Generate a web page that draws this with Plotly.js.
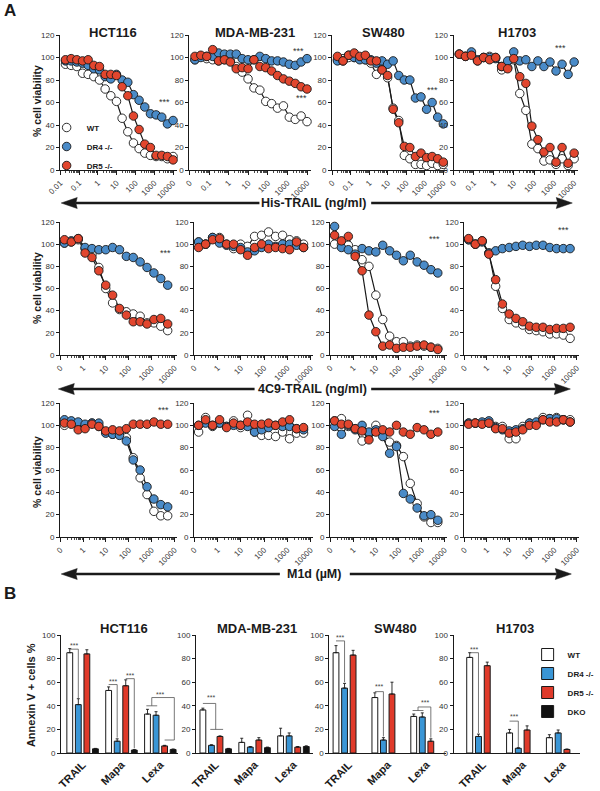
<!DOCTYPE html>
<html>
<head>
<meta charset="utf-8">
<script src="https://cdn.plot.ly/plotly-3.0.1.min.js"></script>
<style>
  body { margin: 0; background: #fff; }
  #chart { width: 600px; height: 791px; }
</style>
</head>
<body>
<div id="chart"></div>
<script>
// doses (2-fold dilutions)
const doseHis = [0.019, 0.038, 0.076, 0.153, 0.305, 0.61, 1.22, 2.44, 4.88, 9.77, 19.5, 39.1, 78.1, 156, 312, 625, 1250, 2500, 5000, 10000];
const doseLow = [0.153, 0.305, 0.61, 1.22, 2.44, 4.88, 9.77, 19.5, 39.1, 78.1, 156, 312, 625, 1250, 2500, 5000];

// His-TRAIL (ng/ml), % cell viability
const hctHisWt = [94, 93, 92, 86, 85, 83, 80, 72, 66, 61, 46, 34, 24, 19, 15, 13, 12, 12, 10, 12];
const hctHisDr4 = [97, 97, 96, 95, 93, 90, 89, 83, 81, 85, 80, 78, 67, 62, 56, 50, 49, 47, 41, 44];
const hctHisDr5 = [98, 99, 98, 97, 98, 93, 92, 85, 85, 84, 74, 66, 48, 36, 23, 20, 13, 13, 12, 9];
const mdaHisWt = [98, 101, 99, 98, 97, 98, 97, 92, 87, 81, 73, 71, 61, 59, 55, 57, 47, 45, 48, 43];
const mdaHisDr4 = [98, 100, 101, 101, 104, 103, 103, 103, 99, 98, 98, 101, 99, 97, 97, 96, 94, 93, 96, 99];
const mdaHisDr5 = [101, 102, 101, 107, 97, 98, 96, 90, 91, 90, 98, 92, 91, 88, 84, 81, 79, 77, 74, 72];
const swHisWt = [98, 99, 100, 100, 99, 98, 95, 85, 89, 82, 55, 44, 13, 10, 5, 5, 4, 6, 4, 5];
const swHisDr4 = [97, 97, 102, 100, 98, 98, 98, 95, 97, 94, 97, 84, 80, 80, 64, 65, 54, 60, 47, 41];
const swHisDr5 = [101, 97, 102, 104, 101, 102, 97, 97, 89, 84, 54, 42, 21, 20, 12, 15, 11, 12, 10, 7];
const hHisWt = [103, 101, 103, 97, 100, 101, 100, 89, 91, 98, 68, 53, 23, 19, 8, 9, 5, 10, 4, 10];
const hHisDr4 = [103, 101, 105, 98, 100, 100, 99, 92, 97, 105, 97, 98, 92, 97, 92, 96, 88, 94, 85, 96];
const hHisDr5 = [103, 101, 102, 97, 100, 98, 100, 92, 90, 99, 83, 77, 39, 27, 16, 20, 7, 20, 6, 15];

// 4C9-TRAIL (ng/ml)
const hct4c9Wt = [101, 102, 104, 96, 91, 79, 60, 47, 41, 39, 37, 35, 29, 29, 26, 22];
const hct4c9Dr4 = [101, 103, 105, 97, 96, 95, 95, 97, 95, 89, 88, 84, 79, 74, 69, 63];
const hct4c9Dr5 = [104, 102, 105, 92, 88, 76, 63, 54, 42, 36, 30, 30, 28, 32, 33, 28];
const mda4c9Wt = [102, 100, 106, 106, 100, 96, 100, 98, 107, 108, 111, 107, 108, 104, 103, 100];
const mda4c9Dr4 = [102, 100, 106, 101, 99, 98, 97, 93, 94, 97, 100, 98, 100, 100, 99, 97];
const mda4c9Dr5 = [97, 100, 104, 105, 100, 100, 95, 90, 97, 100, 96, 97, 96, 95, 102, 97];
const sw4c9Wt = [100, 100, 99, 95, 86, 80, 54, 32, 17, 12, 12, 8, 9, 8, 7, 6];
const sw4c9Dr4 = [116, 97, 95, 91, 96, 94, 93, 99, 94, 90, 85, 90, 84, 81, 77, 74];
const sw4c9Dr5 = [108, 103, 107, 89, 76, 36, 21, 8, 9, 6, 7, 7, 8, 9, 7, 5];
const h4c9Wt = [104, 100, 103, 92, 62, 42, 32, 29, 27, 23, 22, 21, 19, 19, 18, 15];
const h4c9Dr4 = [104, 100, 102, 92, 94, 96, 97, 98, 99, 98, 99, 99, 97, 96, 96, 96];
const h4c9Dr5 = [105, 100, 103, 91, 68, 46, 37, 33, 30, 26, 25, 25, 23, 24, 24, 25];

// M1d (µM)
const hctM1dWt = [100, 103, 102, 100, 102, 99, 94, 92, 93, 89, 71, 53, 38, 23, 19, 19];
const hctM1dDr4 = [105, 104, 103, 101, 102, 102, 93, 92, 91, 86, 69, 60, 45, 34, 29, 27];
const hctM1dDr5 = [102, 101, 96, 97, 101, 99, 95, 96, 95, 97, 101, 101, 101, 103, 101, 101];
const mdaM1dWt = [94, 107, 99, 102, 99, 104, 98, 109, 94, 91, 91, 90, 94, 88, 93, 93];
const mdaM1dDr4 = [100, 102, 100, 102, 99, 100, 100, 99, 94, 96, 98, 100, 99, 99, 97, 96];
const mdaM1dDr5 = [100, 105, 100, 105, 98, 102, 100, 103, 101, 101, 102, 100, 103, 105, 97, 98];
const swM1dWt = [104, 106, 99, 97, 86, 93, 100, 94, 85, 82, 72, 48, 30, 18, 13, 13];
const swM1dDr4 = [99, 92, 100, 96, 100, 94, 96, 90, 75, 81, 39, 34, 26, 19, 20, 15];
const swM1dDr5 = [104, 101, 101, 97, 95, 87, 94, 96, 94, 100, 94, 92, 98, 96, 92, 94];
const hM1dWt = [102, 102, 102, 102, 99, 99, 88, 88, 99, 102, 102, 107, 106, 107, 105, 105];
const hM1dDr4 = [102, 102, 103, 104, 98, 96, 95, 96, 97, 102, 103, 105, 106, 106, 105, 103];
const hM1dDr5 = [101, 102, 101, 102, 97, 97, 93, 94, 96, 100, 100, 105, 103, 103, 105, 103];

// Annexin V+ cells %
const drugs = ['TRAIL', 'Mapa', 'Lexa'];
const hctBarWt = [85, 53, 33];
const hctBarDr4 = [41, 10, 32];
const hctBarDr5 = [84, 57, 6];
const hctBarDko = [3.5, 2.5, 3];
const hctErrWt = [3.5, 3, 4];
const hctErrDr4 = [5, 2, 3];
const hctErrDr5 = [3.5, 5, 0.5];
const hctErrDko = [0.4, 0.4, 0.4];
const mdaBarWt = [36.5, 9, 14.5];
const mdaBarDr4 = [6.5, 5, 14.5];
const mdaBarDr5 = [14, 11, 5];
const mdaBarDko = [3.5, 4.5, 5.5];
const mdaErrWt = [1.5, 3.5, 6.5];
const mdaErrDr4 = [0.5, 0.5, 2.5];
const mdaErrDr5 = [0.5, 2, 0.5];
const mdaErrDko = [0.4, 0.5, 0.6];
const swBarWt = [85, 47, 31];
const swBarDr4 = [55, 11, 30.5];
const swBarDr5 = [83, 50, 10];
const swErrWt = [6, 4, 2];
const swErrDr4 = [4, 2, 3.5];
const swErrDr5 = [4, 10, 2];
const hBarWt = [81, 17, 13];
const hBarDr4 = [14, 4, 17];
const hBarDr5 = [74, 19.5, 3];
const hErrWt = [4, 3, 2.5];
const hErrDr4 = [2, 0.5, 2.5];
const hErrDr5 = [3, 3.5, 0.4];
const noBars = [null, null, null];

const seriesNames = ['WT', 'DR4 -/-', 'DR5 -/-'];
const barNames = ['WT', 'DR4 -/-', 'DR5 -/-', 'DKO'];

const W = 600;
const H = 791;
const px = v => v / W;
const py = v => 1 - v / H;

const FONT = 'Liberation Sans, Arial, Helvetica, sans-serif';
const INK = '#1a1a1a';
const markerColors = ['#ffffff', '#4a8bc8', '#e2462e'];
const barColors = ['#ffffff', '#3a96d6', '#e03a2a', '#111111'];

const rowY = [[35, 170], [222, 355], [403, 537]];
const colX = [
  [[62, 182], [195, 320], [342, 460], [467, 595]],
  [[62, 182], [200, 322], [340, 460], [478, 596]],
  [[62, 182], [200, 322], [340, 460], [478, 596]],
];
const barX = [[63, 183], [202, 322], [339, 459], [467, 597]];
const barY = [635, 753];
const barRanges = [[-0.55, 2.45], [-0.5, 2.5], [-0.5, 2.5], [-0.73, 2.44]];

const panels = [
  { row: 0, col: 0, dose: doseHis, ys: [hctHisWt, hctHisDr4, hctHisDr5] },
  { row: 0, col: 1, dose: doseHis, ys: [mdaHisWt, mdaHisDr4, mdaHisDr5] },
  { row: 0, col: 2, dose: doseHis, ys: [swHisWt, swHisDr4, swHisDr5] },
  { row: 0, col: 3, dose: doseHis, ys: [hHisWt, hHisDr4, hHisDr5] },
  { row: 1, col: 0, dose: doseLow, ys: [hct4c9Wt, hct4c9Dr4, hct4c9Dr5] },
  { row: 1, col: 1, dose: doseLow, ys: [mda4c9Wt, mda4c9Dr4, mda4c9Dr5] },
  { row: 1, col: 2, dose: doseLow, ys: [sw4c9Wt, sw4c9Dr4, sw4c9Dr5] },
  { row: 1, col: 3, dose: doseLow, ys: [h4c9Wt, h4c9Dr4, h4c9Dr5] },
  { row: 2, col: 0, dose: doseLow, ys: [hctM1dWt, hctM1dDr4, hctM1dDr5] },
  { row: 2, col: 1, dose: doseLow, ys: [mdaM1dWt, mdaM1dDr4, mdaM1dDr5] },
  { row: 2, col: 2, dose: doseLow, ys: [swM1dWt, swM1dDr4, swM1dDr5] },
  { row: 2, col: 3, dose: doseLow, ys: [hM1dWt, hM1dDr4, hM1dDr5] },
];

const bars = [
  { ys: [hctBarWt, hctBarDr4, hctBarDr5, hctBarDko], errs: [hctErrWt, hctErrDr4, hctErrDr5, hctErrDko] },
  { ys: [mdaBarWt, mdaBarDr4, mdaBarDr5, mdaBarDko], errs: [mdaErrWt, mdaErrDr4, mdaErrDr5, mdaErrDko] },
  { ys: [swBarWt, swBarDr4, swBarDr5, noBars], errs: [swErrWt, swErrDr4, swErrDr5, noBars] },
  { ys: [hBarWt, hBarDr4, hBarDr5, noBars], errs: [hErrWt, hErrDr4, hErrDr5, noBars] },
];

// significance marks on the dose-response panels: [panel, dose, viability]
const lineStars = [
  [0, 3600, 60], [1, 3500, 106], [1, 5500, 64], [2, 2600, 71], [3, 2200, 108],
  [4, 4000, 92], [6, 3500, 105], [7, 2600, 113], [8, 3200, 114], [10, 3500, 111],
];

const cellTitles = ['HCT116', 'MDA-MB-231', 'SW480', 'H1703'];
const titleXA = [116, 262, 395, 532];
const titleXB = [128, 265, 407, 530];

const data = [];
const layout = {
  width: W,
  height: H,
  margin: { l: 0, r: 0, t: 0, b: 0 },
  paper_bgcolor: '#ffffff',
  plot_bgcolor: 'rgba(0,0,0,0)',
  font: { family: FONT, color: INK },
  showlegend: true,
  barmode: 'group',
  bargap: 0.12,
  bargroupgap: 0.32,
  legend: {
    x: px(48), y: py(113), xanchor: 'left', yanchor: 'top',
    bgcolor: 'rgba(0,0,0,0)', font: { family: FONT, size: 8, weight: 'bold', color: INK },
    itemwidth: 30, tracegroupgap: 0,
  },
  legend2: {
    x: px(543), y: py(640), xanchor: 'left', yanchor: 'top',
    bgcolor: 'rgba(0,0,0,0)', font: { family: FONT, size: 8, weight: 'bold', color: INK },
    itemwidth: 30, tracegroupgap: 0,
  },
  annotations: [],
  shapes: [],
};

function minorTicks(lo, hi) {
  const out = [];
  for (let e = lo; e < hi; e++) {
    for (let m = 2; m <= 9; m++) out.push(+(m * Math.pow(10, e)).toPrecision(3));
  }
  return out;
}

const tickFont = { family: FONT, size: 8, color: '#333' };
const axisBase = {
  showline: true, linecolor: INK, linewidth: 1.2, showgrid: false, zeroline: false,
  ticks: 'outside', tickcolor: INK, tickwidth: 1, fixedrange: true, tickfont: tickFont,
};

const axName = (p, k) => p + (k === 1 ? '' : k);

// dose-response panels
panels.forEach((p, i) => {
  const k = i + 1;
  const xd = colX[p.row][p.col];
  const yd = rowY[p.row];
  const first = p.row === 0;
  const tickvals = first ? [0.01, 0.1, 1, 10, 100, 1000, 10000] : [0.1, 1, 10, 100, 1000, 10000];
  let ticktext = first ? ['0', '0.1', '1', '10', '100', '1000', '10000'] : ['0', '1', '10', '100', '1000', '10000'];
  if (i === 0) ticktext = ['0.01', '0.1', '1', '10', '100', '1000', '10000'];

  layout[axName('xaxis', k)] = Object.assign({}, axisBase, {
    domain: [px(xd[0]), px(xd[1])],
    anchor: axName('y', k),
    type: 'log',
    range: first ? [-2, 4.2] : [-1, 4.1],
    tickmode: 'array', tickvals, ticktext,
    tickangle: -45, ticklen: 4,
    minor: {
      tickmode: 'array', tickvals: first ? minorTicks(-2, 4) : minorTicks(-1, 4),
      ticks: 'outside', ticklen: 2, tickwidth: 0.8, tickcolor: INK,
    },
  });
  layout[axName('yaxis', k)] = Object.assign({}, axisBase, {
    domain: [py(yd[1]), py(yd[0])],
    anchor: axName('x', k),
    range: [0, 120],
    tickmode: 'array', tickvals: [0, 20, 40, 60, 80, 100, 120],
    ticklen: 3,
  });

  p.ys.forEach(y => {
    data.push({
      type: 'scatter', mode: 'lines', x: p.dose, y,
      xaxis: axName('x', k), yaxis: axName('y', k),
      line: { color: INK, width: 1.2 }, showlegend: false, hoverinfo: 'skip', cliponaxis: false,
    });
  });
  p.ys.forEach((y, s) => {
    data.push({
      type: 'scatter', mode: 'markers', x: p.dose, y, name: seriesNames[s],
      xaxis: axName('x', k), yaxis: axName('y', k),
      marker: { size: 8.5, color: markerColors[s], line: { color: INK, width: 0.9 } },
      showlegend: i === 0, legend: 'legend', cliponaxis: false,
    });
  });
});

// apoptosis bar panels
bars.forEach((b, j) => {
  const k = 13 + j;
  const xd = barX[j];
  layout[axName('xaxis', k)] = Object.assign({}, axisBase, {
    domain: [px(xd[0]), px(xd[1])],
    anchor: axName('y', k),
    type: 'category',
    range: barRanges[j],
    ticks: '',
    tickangle: -45,
    tickfont: { family: FONT, size: 11, color: INK, weight: 'bold' },
  });
  layout[axName('yaxis', k)] = Object.assign({}, axisBase, {
    domain: [py(barY[1]), py(barY[0])],
    anchor: axName('x', k),
    range: [0, 100],
    tickmode: 'array', tickvals: [0, 20, 40, 60, 80, 100],
    ticklen: 3,
  });
  b.ys.forEach((y, s) => {
    data.push({
      type: 'bar', x: drugs, y, name: barNames[s],
      xaxis: axName('x', k), yaxis: axName('y', k),
      marker: { color: barColors[s], line: { color: INK, width: 1 } },
      error_y: {
        type: 'data', symmetric: false, array: b.errs[s], arrayminus: [0, 0, 0],
        color: INK, thickness: 0.9, width: 1.5,
      },
      showlegend: j === 0, legend: 'legend2', hoverinfo: 'skip',
    });
  });
});

// titles
const ann = layout.annotations;
const addText = (text, x, y, size, extra) => ann.push(Object.assign({
  text, x: px(x), y: py(y), xref: 'paper', yref: 'paper', showarrow: false,
  xanchor: 'center', yanchor: 'middle',
  font: { family: FONT, size, color: INK, weight: 'bold' },
}, extra || {}));

addText('A', 10, 10, 17);
addText('B', 10, 593, 17);
cellTitles.forEach((t, c) => {
  addText(t, titleXA[c], 32, 13);
  addText(t, titleXB[c], 628, 13);
});
[101, 288, 472].forEach(y => addText('% cell viability', 38, y, 10.5, { textangle: -90 }));
addText('Annexin V + cells %', 32, 695, 11, { textangle: -90 });

// dose arrows: shaft + filled head, in paper space
const arrowRows = [
  { y: 203, label: 'His-TRAIL (ng/ml)', cx: 323, left: [63, 267], right: [382, 589] },
  { y: 389, label: '4C9-TRAIL (ng/ml)', cx: 322, left: [60, 262], right: [382, 587] },
  { y: 574, label: 'M1d (µM)', cx: 323, left: [63, 288], right: [360, 588] },
];
const HEAD_L = 15;
const HEAD_W = 5.5;
arrowRows.forEach(r => {
  addText(r.label, r.cx, r.y, 12.5);
  [[r.left[0], r.left[1]], [r.right[1], r.right[0]]].forEach(([head, tail]) => {
    const dir = tail > head ? 1 : -1;
    const base = head + dir * HEAD_L;
    layout.shapes.push({
      type: 'line', xref: 'paper', yref: 'paper',
      x0: px(base), y0: py(r.y), x1: px(tail), y1: py(r.y),
      line: { color: INK, width: 2.4 },
    });
    layout.shapes.push({
      type: 'path', xref: 'paper', yref: 'paper',
      path: `M ${px(head)} ${py(r.y)} L ${px(base + dir * 1.5)} ${py(r.y - HEAD_W)} L ${px(base)} ${py(r.y)} L ${px(base + dir * 1.5)} ${py(r.y + HEAD_W)} Z`,
      fillcolor: INK, line: { color: INK, width: 0.5 },
    });
  });
});

lineStars.forEach(([p, d, v]) => {
  ann.push({
    text: '***', x: Math.log10(d), y: v, xref: axName('x', p + 1), yref: axName('y', p + 1),
    showarrow: false, font: { family: FONT, size: 9, color: '#333' },
  });
});

// significance brackets on bar panels (slot offsets inside each group)
const slot = [-0.33, -0.11, 0.11, 0.33];
const brackets = [
  { k: 13, star: [slot[0] + 0.11, 91], segs: [[[slot[0], 88], [slot[1], 88], [slot[1], 46]]] },
  { k: 13, star: [1 + slot[0] + 0.11, 61], segs: [[[1 + slot[0], 58], [1 + slot[1], 58], [1 + slot[1], 13]]] },
  { k: 13, star: [1 + slot[2] + 0.11, 66], segs: [[[1 + slot[2], 63], [1 + slot[3], 63], [1 + slot[3], 4]]] },
  { k: 13, star: [2, 50], segs: [
    [[2 + slot[0] - 0.03, 40], [2 + slot[1] + 0.03, 40]],
    [[2 - 0.22, 40], [2 - 0.22, 47], [2 + slot[3] + 0.03, 47], [2 + slot[3] + 0.03, 11]],
    [[2 + slot[2], 11], [2 + slot[3] + 0.03, 11]],
  ] },
  { k: 14, star: [-0.12, 47], segs: [
    [[slot[0], 42], [0, 42], [0, 20]],
    [[slot[1] - 0.03, 20], [slot[2] + 0.08, 20]],
  ] },
  { k: 15, star: [slot[0] + 0.11, 98], segs: [[[slot[0], 95], [slot[1], 95], [slot[1], 60]]] },
  { k: 15, star: [1 + slot[0] + 0.11, 56], segs: [[[1 + slot[0], 52], [1 + slot[1], 52], [1 + slot[1], 14]]] },
  { k: 15, star: [2 - 0.05, 43], segs: [
    [[2 + slot[0] - 0.03, 36], [2 + slot[1] + 0.03, 36]],
    [[2 - 0.22, 36], [2 - 0.22, 39], [2 + slot[2], 39], [2 + slot[2], 13]],
  ] },
  { k: 16, star: [slot[0] + 0.11, 88], segs: [[[slot[0], 85], [slot[1], 85], [slot[1], 17]]] },
  { k: 16, star: [1 + slot[0] + 0.11, 31], segs: [[[1 + slot[0], 27], [1 + slot[1], 27], [1 + slot[1], 5]]] },
];
brackets.forEach(b => {
  const xref = axName('x', b.k);
  const yref = axName('y', b.k);
  b.segs.forEach(pts => {
    for (let i = 1; i < pts.length; i++) {
      layout.shapes.push({
        type: 'line', xref, yref,
        x0: pts[i - 1][0], y0: pts[i - 1][1], x1: pts[i][0], y1: pts[i][1],
        line: { color: '#555', width: 0.8 },
      });
    }
  });
  ann.push({
    text: '***', x: b.star[0], y: b.star[1], xref, yref, showarrow: false,
    font: { family: FONT, size: 7, color: '#444' },
  });
});

Plotly.newPlot('chart', data, layout, { staticPlot: true });
</script>
</body>
</html>
